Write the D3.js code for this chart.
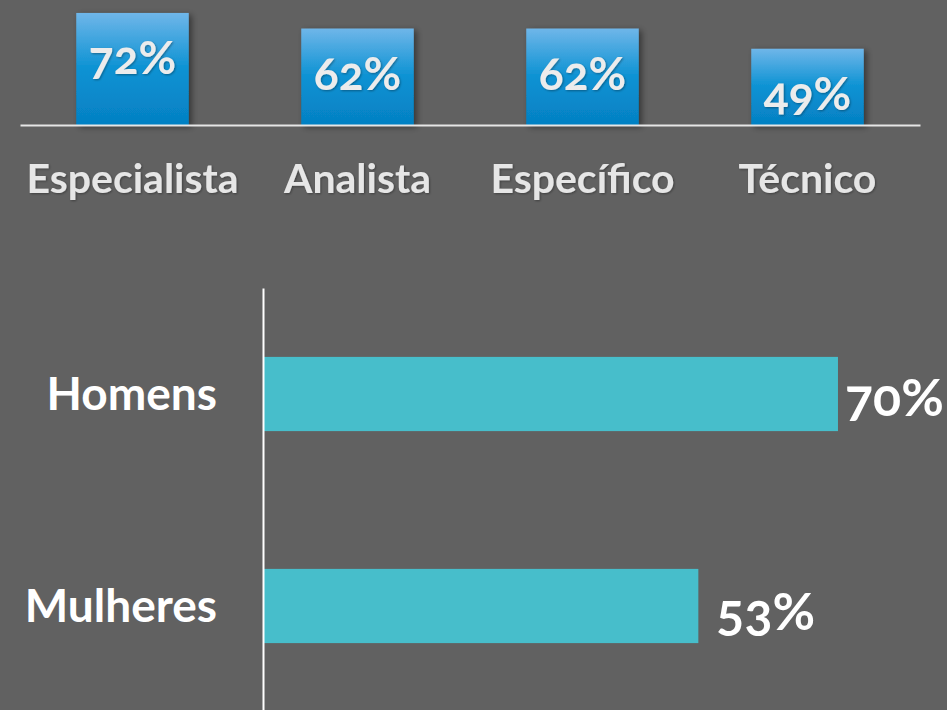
<!DOCTYPE html>
<html>
<head>
<meta charset="utf-8">
<script src="https://cdn.jsdelivr.net/npm/d3@7"></script>
<style>
  html, body { margin: 0; padding: 0; background: #616161; }
  svg { display: block; }
  text { font-family: Lato, "Open Sans", sans-serif; font-weight: bold; font-variant-numeric: oldstyle-nums; }
</style>
</head>
<body>
<svg id="chart" width="947" height="710"></svg>
<script>
// ---- data ----
const roleCategories = ["Especialista", "Analista", "Específico", "Técnico"];
const roleValues = [72, 62, 62, 49];
const genderCategories = ["Homens", "Mulheres"];
const genderValues = [70, 53];

const svg = d3.select("#chart");
svg.append("rect").attr("width", 947).attr("height", 710).attr("fill", "#616161");

const defs = svg.append("defs");
const grad = defs.append("linearGradient").attr("id", "blueGrad")
  .attr("x1", 0).attr("y1", 0).attr("x2", 0).attr("y2", 1);
grad.append("stop").attr("offset", "0%").attr("stop-color", "#6fb6e9");
grad.append("stop").attr("offset", "50%").attr("stop-color", "#0b92d3");
grad.append("stop").attr("offset", "100%").attr("stop-color", "#0580c3");

const shadow = defs.append("filter").attr("id", "shadow")
  .attr("x", "-20%").attr("y", "-20%").attr("width", "150%").attr("height", "150%");
shadow.append("feDropShadow").attr("dx", 3).attr("dy", 2).attr("stdDeviation", 3)
  .attr("flood-color", "#000").attr("flood-opacity", 0.45);

const textShadow = defs.append("filter").attr("id", "tshadow")
  .attr("x", "-10%").attr("y", "-10%").attr("width", "130%").attr("height", "140%");
textShadow.append("feDropShadow").attr("dx", 1).attr("dy", 1).attr("stdDeviation", 1)
  .attr("flood-color", "#000").attr("flood-opacity", 0.35);

// ---- top: vertical bars ----
const topBase = 125;
const x1 = d3.scaleBand().domain(roleCategories).range([20, 920])
  .paddingInner(0.5).paddingOuter(0.25);
const y1 = d3.scaleLinear().domain([0, 100]).range([topBase, topBase - 155.6]);

const topG = svg.append("g");
topG.selectAll("rect.bar").data(roleCategories).join("rect")
  .attr("class", "bar")
  .attr("x", d => x1(d))
  .attr("width", x1.bandwidth())
  .attr("y", (d, i) => y1(roleValues[i]))
  .attr("height", (d, i) => y1(0) - y1(roleValues[i]))
  .attr("fill", "url(#blueGrad)")
  .attr("filter", "url(#shadow)");

topG.selectAll("text.val").data(roleCategories).join("text")
  .attr("class", "val")
  .attr("x", d => x1(d) + x1.bandwidth() / 2)
  .attr("y", (d, i) => y1(roleValues[i]) + 61)
  .attr("text-anchor", "middle")
  .attr("font-size", 46)
  .attr("fill", "#ececec")
  .attr("filter", "url(#tshadow)")
  .text((d, i) => roleValues[i] + "%");

// axis baseline
const xAxis1 = d3.axisBottom(x1).tickSize(0).tickPadding(39);
const axG = svg.append("g").attr("transform", `translate(0,${topBase})`).call(xAxis1);
axG.select(".domain").attr("stroke", "#e6e6e6").attr("stroke-width", 2);
axG.selectAll(".tick text")
  .attr("font-size", 41)
  .attr("fill", "#e6e6e6")
  .attr("filter", "url(#tshadow)")
  .attr("font-family", "Lato, 'Open Sans', sans-serif")
  .attr("font-weight", "bold");

// ---- bottom: horizontal bars ----
const x2 = d3.scaleLinear().domain([0, 100]).range([263, 263 + 821.4]);
const y2 = d3.scaleBand().domain(genderCategories).range([288, 712])
  .paddingInner(0.65).paddingOuter(0.325);

const botG = svg.append("g");
botG.selectAll("rect.hbar").data(genderCategories).join("rect")
  .attr("class", "hbar")
  .attr("x", x2(0))
  .attr("y", d => y2(d))
  .attr("width", (d, i) => x2(genderValues[i]) - x2(0))
  .attr("height", y2.bandwidth())
  .attr("fill", "#47becb");

const labelDx = [7, 18];
const labelDy = [22, 24];
botG.selectAll("text.hval").data(genderCategories).join("text")
  .attr("class", "hval")
  .attr("x", (d, i) => x2(genderValues[i]) + labelDx[i])
  .attr("y", (d, i) => y2(d) + y2.bandwidth() / 2 + labelDy[i])
  .attr("font-size", 52)
  .attr("fill", "#ffffff")
  .text((d, i) => genderValues[i] + "%");

const yAxis2 = d3.axisLeft(y2).tickSize(0).tickPadding(46);
const ay = svg.append("g").attr("transform", `translate(${x2(0)},0)`).call(yAxis2);
ay.select(".domain").attr("stroke", "#ffffff").attr("stroke-width", 2);
ay.selectAll(".tick text")
  .attr("font-size", 46)
  .attr("fill", "#ffffff")
  .attr("dy", "0.35em")
  .attr("font-family", "Lato, 'Open Sans', sans-serif")
  .attr("font-weight", "bold");
</script>
</body>
</html>
